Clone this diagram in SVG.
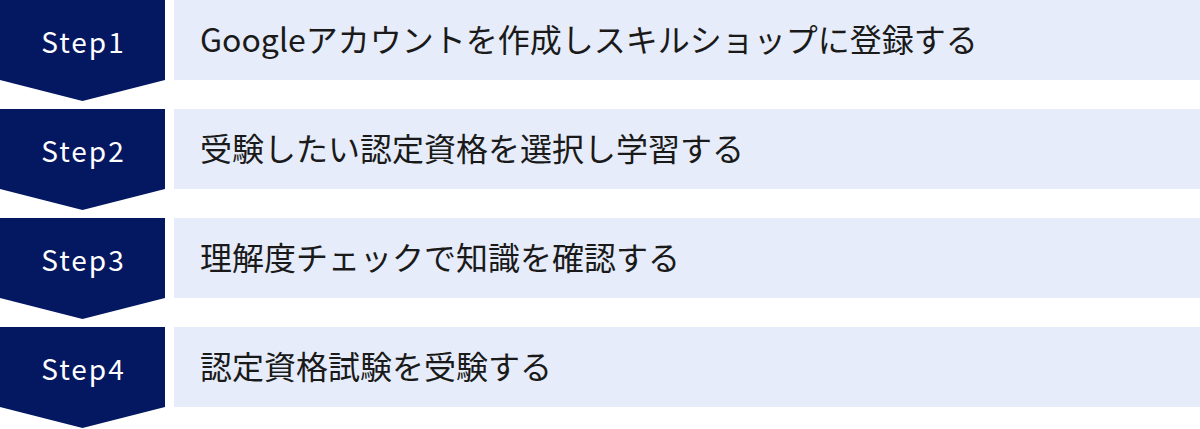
<svg xmlns="http://www.w3.org/2000/svg" width="1200" height="429" viewBox="0 0 1200 429">
<defs>
<style>
.step{fill:#041761;}
.box{fill:#E6ECF9;}
.st{font-family:"Noto Sans CJK JP","Noto Sans",sans-serif;font-size:28px;fill:#ffffff;text-anchor:middle;letter-spacing:2px;}
.tx{font-family:"Noto Sans CJK JP","Noto Sans",sans-serif;font-size:32px;fill:#1a1a1a;}
</style>
<polygon id="chev" points="0,0 165,0 165,80 82.5,101 0,80"/>
</defs>
<rect width="1200" height="429" fill="#ffffff"/>
<g id="step1">
<use href="#chev" class="step" transform="translate(0,0)"/>
<rect class="box" x="174" y="0" width="1026" height="80"/>
<text class="st" x="83.5" y="53">Step1</text>
<text class="tx" x="200" y="52">Googleアカウントを作成しスキルショップに登録する</text>
</g>
<g id="step2">
<use href="#chev" class="step" transform="translate(0,109)"/>
<rect class="box" x="174" y="109" width="1026" height="80"/>
<text class="st" x="83.5" y="162">Step2</text>
<text class="tx" x="200" y="161">受験したい認定資格を選択し学習する</text>
</g>
<g id="step3">
<use href="#chev" class="step" transform="translate(0,218)"/>
<rect class="box" x="174" y="218" width="1026" height="80"/>
<text class="st" x="83.5" y="271">Step3</text>
<text class="tx" x="200" y="270">理解度チェックで知識を確認する</text>
</g>
<g id="step4">
<use href="#chev" class="step" transform="translate(0,327)"/>
<rect class="box" x="174" y="327" width="1026" height="80"/>
<text class="st" x="83.5" y="380">Step4</text>
<text class="tx" x="200" y="379">認定資格試験を受験する</text>
</g>
<g id="connectors"></g>
</svg>
